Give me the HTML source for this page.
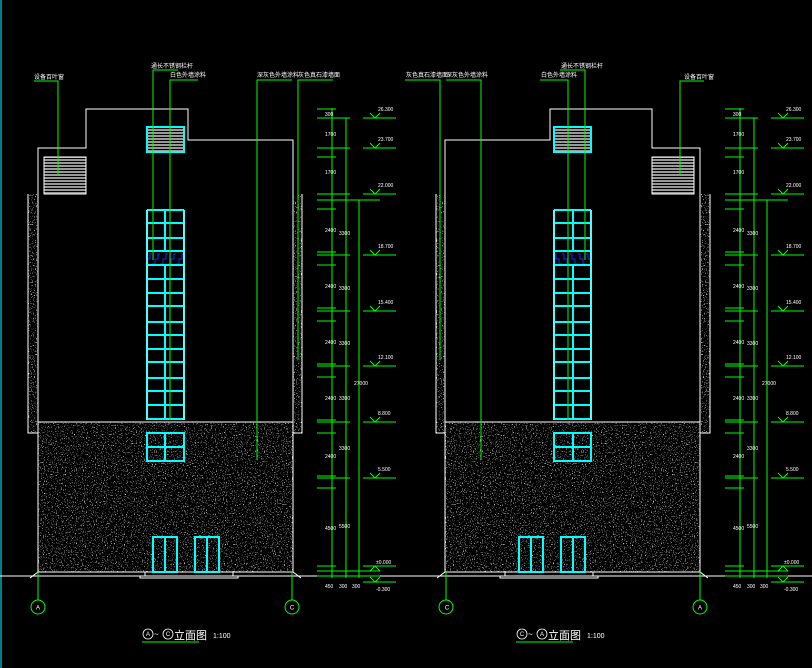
<!DOCTYPE html>
<html><head><meta charset="utf-8"><style>
html,body{margin:0;padding:0;background:#000;width:812px;height:668px;overflow:hidden}
svg{display:block}
text{font-family:"Liberation Sans","Noto Sans CJK SC",sans-serif;fill:#fff}
</style></head><body>
<svg width="812" height="668" viewBox="0 0 812 668" xmlns="http://www.w3.org/2000/svg">
<defs>
<filter id="sp" x="0" y="0" width="100%" height="100%">
<feTurbulence type="fractalNoise" baseFrequency="0.9" numOctaves="1" seed="4" result="n"/>
<feColorMatrix in="n" type="matrix" values="0 0 0 0 0.55  0 0 0 0 0.55  0 0 0 0 0.55  10 0 0 0 -6.0" result="m"/>
<feComposite in="m" in2="SourceGraphic" operator="in"/>
</filter>
<pattern id="lv" width="4" height="3" patternUnits="userSpaceOnUse"><rect width="4" height="2" fill="#999"/></pattern>
<pattern id="bl" width="8" height="14" patternUnits="userSpaceOnUse"><path d="M0 12 L3 12 L3 7 L6 7 L6 2 L8 2" stroke="#22f" fill="none" stroke-width="1"/></pattern>
<g id="bld">
<rect x="28" y="194" width="10" height="239" fill="#fff" filter="url(#sp)"/>
<rect x="293" y="194" width="9" height="239" fill="#fff" filter="url(#sp)"/>
<rect x="38" y="422" width="255" height="150" fill="#fff" filter="url(#sp)"/>
<g stroke="#fff" fill="none" stroke-width="1">
<path d="M38 194 V148 H86 V109 H188 V140 H293 V194"/>
<path d="M28 194 V433 H38 M302 194 V433 H293 M38 194 V572 M293 194 V572 M38 422 H293"/>
<path d="M30 578 L38 572 H293 L301 578"/>
<path d="M145 572 V576 H233 V572 M140 576 V578 H238 V576"/>
</g>
<rect x="44" y="157" width="42" height="37" fill="url(#lv)" stroke="#fff" stroke-width="1"/>
<rect x="147" y="127" width="37" height="25" fill="url(#lv)" stroke="#0ff" stroke-width="2"/>
<rect x="148" y="251" width="36" height="14" fill="url(#bl)"/>
<g stroke="#0ff" stroke-width="2" fill="none">
<path d="M147 210 V420 M184 210 V420 M165 210 V251 M165 265 V420"/>
<path d="M147 210 H184 M147 223 H184 M147 238 H184 M147 251 H184 M147 265 H184 M147 279 H184 M147 293 H184 M147 306 H184 M147 322 H184 M147 335 H184 M147 349 H184 M147 362 H184 M147 378 H184 M147 391 H184 M147 405 H184 M147 419 H184"/>
<rect x="147" y="433" width="37" height="28"/>
<path d="M165 433 V461 M147 447 H184"/>
<rect x="153" y="537" width="24" height="35"/><path d="M165 537 V572"/>
<rect x="195" y="537" width="24" height="35"/><path d="M207 537 V572"/>
</g>
<path d="M147 210 V420 M184 210 V420" stroke="#fff" stroke-width="0.6"/>
<g stroke="#0f0" stroke-width="1" fill="none">
<path d="M34 81 H58 V175"/>
<path d="M178 70 H153 V260"/>
<path d="M198 80 H170 V420"/>
<path d="M292 80 H257 V460"/>
<path d="M333 80 H298 V360"/>
<path d="M38 572 V600 M292 572 V600"/>
<circle cx="38" cy="607" r="7"/><circle cx="292" cy="607" r="7"/>
</g>
</g>
<g id="dim">
<g stroke="#0f0" stroke-width="1" fill="none">
<path d="M332 108 V578 M346 118 V578 M359 200 V578"/>
<path d="M317 109 H336 M317 118 H350 M317 148 H350 M317 157 H336 M317 194 H350 M317 200 H380 M317 209 H336 M317 252 H336 M317 255 H350 M317 265 H336 M317 308 H336 M317 311 H350 M317 321 H336 M317 364 H336 M317 366 H350 M317 377 H336 M317 420 H336 M317 422 H350 M317 433 H336 M317 476 H336 M317 478 H350 M317 488 H336 M317 566 H336 M317 571 H380 M317 576 H380"/>
<path d="M363 118 H396 M370 113 L375 118 L380 113 M363 148 H396 M370 143 L375 148 L380 143 M363 194 H396 M370 189 L375 194 L380 189 M363 255 H396 M370 250 L375 255 L380 250 M363 311 H396 M370 306 L375 311 L380 306 M363 366 H396 M370 361 L375 366 L380 361 M363 422 H396 M370 417 L375 422 L380 417 M363 478 H396 M370 473 L375 478 L380 473 M363 566 H396 M370 571 L375 566 L380 571 M363 582 H396 M370 577 L375 582 L380 577"/>
</g>
<g font-size="5">
<text x="378" y="111">26.300</text><text x="378" y="141">23.700</text><text x="378" y="187">22.000</text>
<text x="378" y="248">18.700</text><text x="378" y="304">15.400</text><text x="378" y="359">12.100</text>
<text x="378" y="415">8.800</text><text x="378" y="471">5.500</text><text x="376" y="564">±0.000</text><text x="376" y="591">-0.300</text>
<text x="325" y="116">300</text><text x="325" y="136">1700</text><text x="325" y="174">1700</text><text x="325" y="232">2400</text>
<text x="325" y="288">2400</text><text x="325" y="344">2400</text><text x="325" y="400">2400</text><text x="325" y="458">2400</text><text x="325" y="530">4500</text>
<text x="339" y="235">3300</text><text x="339" y="290">3300</text><text x="339" y="345">3300</text><text x="339" y="400">3300</text><text x="339" y="450">3300</text><text x="339" y="528">5500</text>
<text x="354" y="385">27000</text>
<text x="325" y="588">450</text><text x="339" y="588">300</text><text x="352" y="588">300</text>
</g>
</g>
</defs>
<line x1="1" y1="0" x2="1" y2="668" stroke="#0ff" stroke-width="1"/>
<line x1="0" y1="576" x2="812" y2="576" stroke="#fff" stroke-width="1"/>
<use href="#bld"/>
<use href="#bld" transform="translate(738,0) scale(-1,1)"/>
<use href="#dim"/>
<use href="#dim" transform="translate(408,0)"/>
<g font-size="6" fill="#fff">
<text x="34" y="79">设备百叶窗</text>
<text x="151" y="68">通长不锈钢栏杆</text>
<text x="170" y="77">白色外墙涂料</text>
<text x="257" y="77">深灰色外墙涂料</text>
<text x="298" y="77">灰色真石漆墙面</text>
<text x="406" y="77">灰色真石漆墙面</text>
<text x="446" y="77">深灰色外墙涂料</text>
<text x="561" y="68">通长不锈钢栏杆</text>
<text x="541" y="77">白色外墙涂料</text>
<text x="684" y="79">设备百叶窗</text>
</g>
<g font-size="6" fill="#fff" text-anchor="middle">
<text x="38" y="609.5">A</text><text x="292" y="609.5">C</text>
<text x="447" y="609.5">C</text><text x="700" y="609.5">A</text>
</g>
<g stroke="#fff" fill="none" stroke-width="0.8">
<circle cx="148" cy="634" r="5"/><circle cx="168" cy="634" r="5"/>
<circle cx="522" cy="634" r="5"/><circle cx="542" cy="634" r="5"/>
</g>
<g font-size="6" fill="#fff" text-anchor="middle">
<text x="148" y="636">A</text><text x="168" y="636">C</text>
<text x="522" y="636">C</text><text x="542" y="636">A</text>
</g>
<text x="154" y="637" font-size="8">~</text><text x="528" y="637" font-size="8">~</text>
<text x="174" y="639" font-size="11">立面图</text>
<text x="548" y="639" font-size="11">立面图</text>
<text x="213" y="638" font-size="7">1:100</text>
<text x="587" y="638" font-size="7">1:100</text>
<line x1="142" y1="642" x2="199" y2="642" stroke="#0f0"/>
<line x1="516" y1="642" x2="573" y2="642" stroke="#0f0"/>
</svg>
</body></html>
